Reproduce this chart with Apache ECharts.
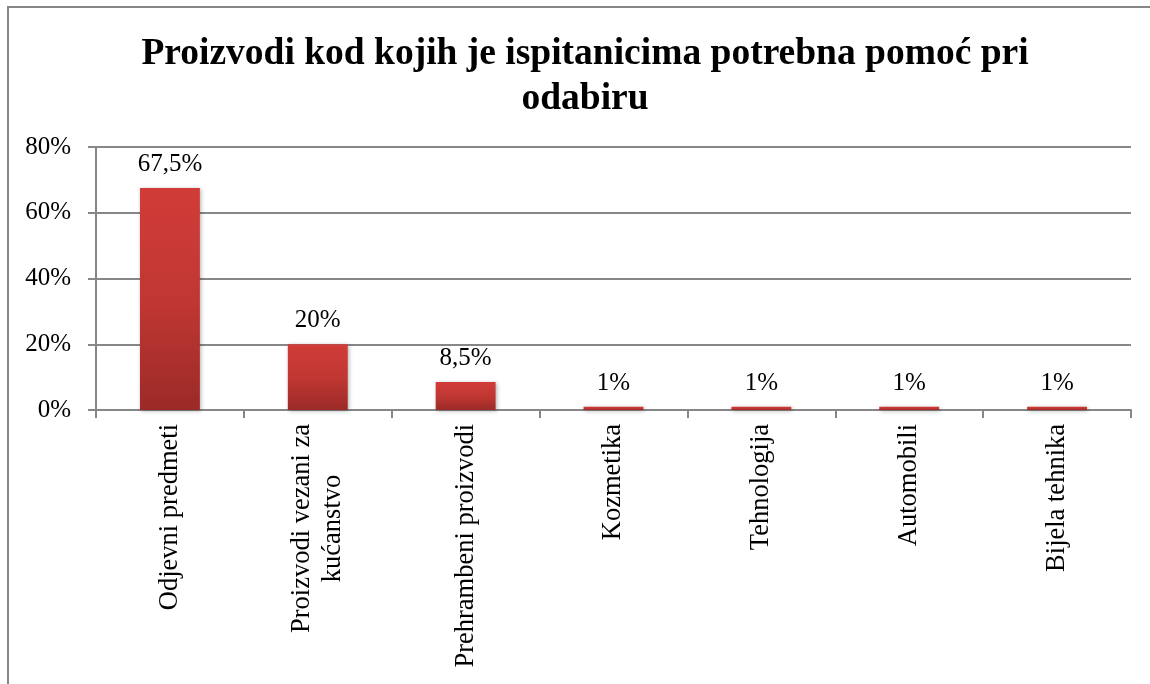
<!DOCTYPE html>
<html>
<head>
<meta charset="utf-8">
<script src="https://cdn.jsdelivr.net/npm/echarts@6/dist/echarts.min.js"></script>
<style>
  html, body { margin: 0; padding: 0; background: #fff; }
  #main { width: 1150px; height: 684px; }
</style>
</head>
<body>
<div id="main"></div>
<script>
const titleText = 'Proizvodi kod kojih je ispitanicima potrebna pomoć pri\nodabiru';
const categories = [
  'Odjevni predmeti',
  'Proizvodi vezani za\nkućanstvo',
  'Prehrambeni proizvodi',
  'Kozmetika',
  'Tehnologija',
  'Automobili',
  'Bijela tehnika'
];
const values = [67.5, 20, 8.5, 1, 1, 1, 1];
const yTicks = { min: 0, max: 80, interval: 20 };

const serif = 'Liberation Serif, Times New Roman, serif';
const gray = '#878787';

const chart = echarts.init(document.getElementById('main'));

const op = {
  animation: false,
  backgroundColor: '#fff',
  graphic: [
    {
      type: 'rect',
      shape: { x: 8, y: 7, width: 1170, height: 700 },
      style: { fill: 'none', stroke: gray, lineWidth: 2 },
      silent: true
    }
  ],
  title: {
    text: titleText,
    left: 580,
    top: 27,
    textAlign: 'center',
    textStyle: {
      fontFamily: serif,
      fontWeight: 'bold',
      fontSize: 37.5,
      lineHeight: 45,
      color: '#000'
    }
  },
  grid: {
    left: 96,
    right: 19,
    top: 147,
    bottom: 274
  },
  xAxis: {
    type: 'category',
    data: categories,
    axisLine: { lineStyle: { color: gray, width: 2 } },
    axisTick: { show: true, length: 8, lineStyle: { color: gray, width: 2 } },
    axisLabel: {
      interval: 0,
      rotate: 90,
      margin: 14,
      color: '#000',
      fontFamily: serif,
      fontSize: 26.5,
      formatter: function (v) {
        // center each wrapped line like the original
        return v.split('\n').map(function (s) { return '{c|' + s + '}'; }).join('\n');
      },
      rich: {
        c: {
          align: 'center',
          fontFamily: serif,
          fontSize: 26.5,
          lineHeight: 31,
          color: '#000'
        }
      }
    }
  },
  yAxis: {
    type: 'value',
    min: yTicks.min,
    max: yTicks.max,
    interval: yTicks.interval,
    axisLine: { show: true, lineStyle: { color: gray, width: 2 } },
    axisTick: { show: true, length: 8, lineStyle: { color: gray, width: 2 } },
    splitLine: { show: true, lineStyle: { color: gray, width: 2 } },
    axisLabel: {
      margin: 25,
      color: '#000',
      fontFamily: serif,
      fontSize: 25,
      formatter: '{value}%'
    }
  },
  series: [
    {
      type: 'bar',
      data: values,
      barWidth: '40.5%',
      itemStyle: {
        color: new echarts.graphic.LinearGradient(0, 0, 0, 1, [
          { offset: 0, color: '#d13c38' },
          { offset: 0.5, color: '#c13733' },
          { offset: 1, color: '#9b2a27' }
        ]),
        shadowBlur: 4,
        shadowColor: 'rgba(0,0,0,0.3)',
        shadowOffsetX: 1,
        shadowOffsetY: 1
      },
      label: {
        show: true,
        position: 'top',
        distance: 11,
        color: '#000',
        fontFamily: serif,
        fontSize: 25,
        formatter: function (p) {
          return String(p.value).replace('.', ',') + '%';
        }
      }
    }
  ]
};

chart.setOption(op, true);
</script>
</body>
</html>
